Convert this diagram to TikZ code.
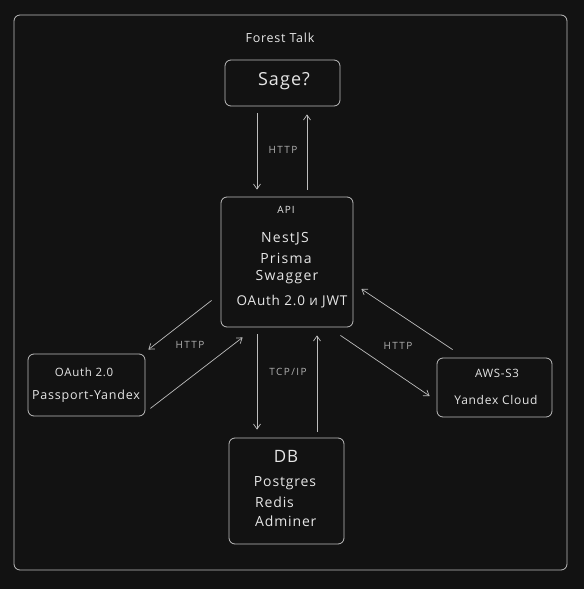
\documentclass[tikz,border=0pt]{standalone}
\usepackage{fontspec}
\setmainfont{Open Sans}[LetterSpace=6]
\usetikzlibrary{arrows.meta}
\definecolor{bg}{HTML}{121212}
\definecolor{ln}{HTML}{BDBDBD}
\definecolor{tx}{HTML}{E6E6E6}
\definecolor{lb}{HTML}{B0B0B0}
\begin{document}
\begin{tikzpicture}[x=1pt,y=-1pt,
  box/.style={draw=ln,rounded corners=6pt,line width=0.8pt,inner sep=0pt},
  arr/.style={draw=ln,line width=0.7pt,-{Straight Barb[length=5pt,width=7pt]}},
  lbl/.style={text=lb,font=\fontsize{10}{12}\selectfont\addfontfeatures{LetterSpace=14}},
  txt/.style={text=tx,inner sep=0pt},
  big/.style={txt,font=\fontsize{18}{20}\selectfont},
  mid/.style={txt,font=\fontsize{14}{16}\selectfont\addfontfeatures{LetterSpace=9}},
  sml/.style={txt,font=\fontsize{12}{14}\selectfont}]
\fill[bg] (0,0) rectangle (584,589);
\useasboundingbox (0,0) rectangle (584,589);
\node[box,minimum width=553pt,minimum height=555pt] (frame) at (290.5,292.5) {};
\node[sml,font=\fontsize{12.5}{14}\selectfont] (title) at (280,38) {Forest Talk};
% boxes
\node[box,minimum width=115pt,minimum height=46pt] (sage) at (282.5,83) {};
\node[box,minimum width=132pt,minimum height=130pt] (api) at (287,262) {};
\node[box,minimum width=117pt,minimum height=62pt] (oauth) at (86.5,385) {};
\node[box,minimum width=115pt,minimum height=59pt] (aws) at (494.5,387.5) {};
\node[box,minimum width=115pt,minimum height=106pt] (db) at (286.5,491) {};
% texts
\node[big] (sagetxt) at (284,81) {Sage?};
\node[txt,font=\fontsize{10}{12}\selectfont\addfontfeatures{LetterSpace=10}] (apit) at (286,210) {API};
\node[mid] (nest) at (285,239) {NestJS};
\node[mid] (prisma) at (286,258) {Prisma};
\node[mid] (swag) at (287,277) {Swagger};
\node[txt,font=\fontsize{13.5}{15}\selectfont] (oajwt) at (292,302) {OAuth 2.0 и JWT};
\node[sml,font=\fontsize{11.5}{13}\selectfont] (oa1) at (84,372) {OAuth 2.0};
\node[sml,font=\fontsize{12.5}{14}\selectfont] (oa2) at (86,396) {Passport-Yandex};
\node[sml,font=\fontsize{11.5}{13}\selectfont] (aw1) at (497,373) {AWS-S3};
\node[sml] (aw2) at (496,400) {Yandex Cloud};
\node[txt,font=\fontsize{17}{19}\selectfont] (dbt) at (286,456) {DB};
\node[txt,font=\fontsize{14}{16}\selectfont] (pg) at (285,483) {Postgres};
\node[txt,font=\fontsize{14}{16}\selectfont,anchor=west] (rd) at (255,502) {Redis};
\node[txt,font=\fontsize{14}{16}\selectfont,anchor=west] (ad) at (255,521) {Adminer};
% labels
\node[lbl] (l1) at (283,150) {HTTP};
\node[lbl] (l2) at (190,345) {HTTP};
\node[lbl] (l3) at (398,346) {HTTP};
\node[lbl] (l4) at (288,372) {TCP/IP};
% arrows
\draw[arr] ([xshift=-25.5pt,yshift=-7pt]sage.south) -- ([xshift=-30pt,yshift=7pt]api.north);
\draw[arr] ([xshift=20pt,yshift=7pt]api.north) -- ([xshift=24.5pt,yshift=-8pt]sage.south);
\draw[arr] ([xshift=-30pt,yshift=-7pt]api.south) -- ([xshift=-29.5pt,yshift=8pt]db.north);
\draw[arr] ([xshift=30.5pt,yshift=6pt]db.north) -- ([xshift=30pt,yshift=-8pt]api.south);
\draw[arr] ([xshift=-9pt,yshift=27pt]api.south west) -- ([xshift=3pt,yshift=4pt]oauth.north east);
\draw[arr] ([xshift=5pt,yshift=8pt]oauth.south east) -- ([xshift=22pt,yshift=-10pt]api.south west);
\draw[arr] ([xshift=-13pt,yshift=-8pt]api.south east) -- ([xshift=-7pt,yshift=-8.5pt]aws.west);
\draw[arr] ([xshift=16pt,yshift=8pt]aws.north west) -- ([xshift=8pt,yshift=-27pt]api.east);
\end{tikzpicture}
\end{document}
